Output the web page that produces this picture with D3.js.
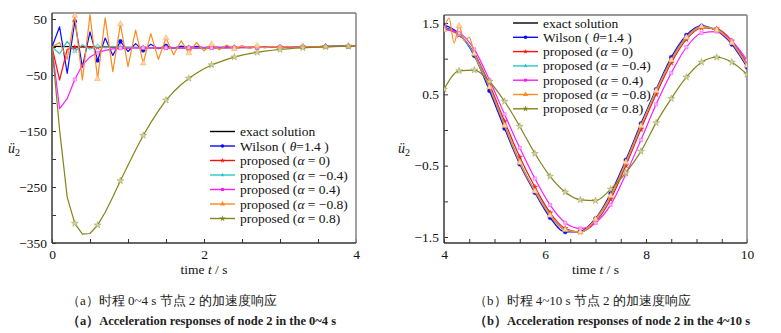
<!DOCTYPE html>
<html>
<head>
<meta charset="utf-8">
<script src="https://cdn.jsdelivr.net/npm/d3@7"></script>
<style>
  body { margin: 0; background: #fff; }
  svg, svg text { font-family: "Liberation Serif", "Times New Roman", serif; }
</style>
</head>
<body>
<svg id="chart" width="781" height="333" font-family="Liberation Serif"></svg>
<script>
// ---------- panel (a): 0-4 s, step 0.1 s ----------
const tLeft = [0,0.1,0.2,0.3,0.4,0.5,0.6,0.7,0.8,0.9,1.0,1.1,1.2,1.3,1.4,1.5,1.6,1.7,1.8,1.9,
  2.0,2.1,2.2,2.3,2.4,2.5,2.6,2.7,2.8,2.9,3.0,3.1,3.2,3.3,3.4,3.5,3.6,3.7,3.8,3.9,4.0];
const tExactLeft = [0,0.5,1.0,1.5,2.0,2.5,3.0,3.5,4.0];
const exactLeft = [0.98,0.14,-0.75,-1.34,-1.40,-0.90,-0.05,0.83,1.38];
const wilsonLeft = [0,36,-47,46,-36,27,-24,16,-15,10, -8,6,-6,5,-3,2,-2,1.5,-1.5,1,
  -1,0.5,-0.8,0.3,-1.2,-0.6,-1,-0.5,-0.6,-0.3, -0.2,0,0.2,0.4,0.5,0.7,0.9,1.0,1.2,1.3, 1.4];
const alpha0Left = [0,-59,-4,-1,-0.4,0,-0.3,-0.6,-0.9,-1.1, -1.2,-1.3,-1.35,-1.4,-1.4,-1.35,-1.4,-1.42,-1.42,-1.4,
  -1.4,-1.3,-1.2,-1.1,-1.0,-0.9,-0.7,-0.5,-0.3,-0.2, -0.05,0.1,0.3,0.5,0.6,0.8,1.0,1.1,1.2,1.3, 1.4];
const alphaM04Left = [0,-12,10,-8,4,-4,2,-1.5,1,-0.6, -0.9,-1.1,-1.2,-1.3,-1.35,-1.35,-1.4,-1.42,-1.42,-1.4,
  -1.4,-1.3,-1.2,-1.1,-1.0,-0.9,-0.7,-0.5,-0.3,-0.2, -0.05,0.1,0.3,0.5,0.6,0.8,1.0,1.1,1.2,1.3, 1.4];
const alpha04Left = [0,-110,-92,-58,-32,-18,-10,-6,-3.5,-2.4, -2,-1.8,-1.7,-1.6,-1.5,-1.5,-1.45,-1.45,-1.4,-1.4,
  -1.35,-1.3,-1.2,-1.1,-1.0,-0.9,-0.75,-0.6,-0.4,-0.25, -0.1,0.05,0.2,0.35,0.5,0.65,0.8,0.95,1.1,1.2, 1.3];
const alphaM08Left = [0,8,-22,56,-59,58,-57,52,-44,41, -35,30,-29,24,-22,16,-14,11,-11,8,
  -7,5,-5,3.5,-3.5,2.5,-2.5,2,-1.5,1.2, -1,1,-0.5,0.8,0,0.8,0.5,1.2,0.9,1.5, 1.4];
const alpha08Left = [0,-148,-268,-315,-334,-333,-318,-295,-268,-239, -211,-184,-158,-135,-114,-95,-80,-67,-56,-47,
  -39,-32,-27,-22,-18,-14.5,-12,-9.5,-7.5,-5.8, -4.4,-3.2,-2.2,-1.4,-0.7,-0.1,0.4,0.8,1.1,1.3, 1.4];

// ---------- panel (b): 4-10 s ----------
const tRight = [4.0,4.3,4.6,4.9,5.2,5.5,5.8,6.1,6.4,6.7,7.0,7.3,7.6,7.9,8.2,8.5,8.8,9.1,9.4,9.7,10.0];
const exactRight = [1.44,1.34,1.06,0.60,0.06,-0.46,-0.86,-1.20,-1.40,-1.43,-1.25,-0.92,-0.45,0.06,0.55,0.98,1.30,1.45,1.40,1.22,0.90];
const wilsonRight = [1.47,1.35,1.04,0.55,0.02,-0.48,-0.88,-1.23,-1.43,-1.42,-1.24,-0.89,-0.42,0.09,0.57,1.02,1.33,1.46,1.39,1.20,0.88];
const alpha0Right = [1.42,1.33,1.08,0.64,0.12,-0.38,-0.80,-1.16,-1.38,-1.43,-1.29,-0.97,-0.50,0.01,0.50,0.94,1.27,1.43,1.42,1.25,0.94];
const alphaM04Right = [1.43,1.34,1.06,0.61,0.07,-0.44,-0.85,-1.19,-1.40,-1.43,-1.26,-0.93,-0.46,0.05,0.54,0.97,1.29,1.45,1.41,1.23,0.91];
const alpha04Right = [1.41,1.36,1.13,0.70,0.22,-0.25,-0.68,-1.05,-1.30,-1.38,-1.30,-1.05,-0.62,-0.14,0.36,0.80,1.16,1.36,1.38,1.25,0.98];
const tAlphaM08Right = [4.0,4.1,4.2,4.3,4.4,4.5,4.6,4.9,5.2,5.5,5.8,6.1,6.4,6.7,7.0,7.3,7.6,7.9,8.2,8.5,8.8,9.1,9.4,9.7,10.0];
const alphaM08Right = [1.40,1.57,1.22,1.46,1.25,1.30,1.07,0.60,0.06,-0.46,-0.86,-1.20,-1.40,-1.43,-1.25,-0.92,-0.45,0.06,0.55,0.98,1.30,1.45,1.40,1.22,0.90];
const alpha08Right = [0.57,0.83,0.84,0.68,0.40,0.05,-0.33,-0.65,-0.87,-0.98,-0.99,-0.83,-0.60,-0.30,0.10,0.44,0.74,0.95,1.02,0.95,0.78];

// ticks
const xTicksLeft = [0,0.5,1,1.5,2,2.5,3,3.5,4];
const xLabelsLeft = [0,2,4];
const yTicksLeft = [50,0,-50,-100,-150,-200,-250,-300,-350];
const yLabelsLeft = [50,-50,-150,-250,-350];
const xTicksRight = [4,4.5,5,5.5,6,6.5,7,7.5,8,8.5,9,9.5,10];
const xLabelsRight = [4,6,8,10];
const yTicksRight = [1.5,1,0.5,0,-0.5,-1,-1.5];
const yLabelsRight = [1.5,0.5,-0.5,-1.5];

// legend entries: [text, italic]
const legendText = [
  [["exact solution", 0]],
  [["Wilson ( ", 0], ["θ", 1], ["=1.4 )", 0]],
  [["proposed (", 0], ["α", 1], [" = 0)", 0]],
  [["proposed (", 0], ["α", 1], [" = −0.4)", 0]],
  [["proposed (", 0], ["α", 1], [" = 0.4)", 0]],
  [["proposed (", 0], ["α", 1], [" = −0.8)", 0]],
  [["proposed (", 0], ["α", 1], [" = 0.8)", 0]]
];

// line colour, marker fill, marker shape for each method
const colors = ["#000000", "#0a0aff", "#ff1010", "#2ec8c8", "#ff1aff", "#ff8a1e", "#84841a"];
const markFill = ["none", "#0a0aff", "#ff2020", "#9fe6e6", "#f7b4f7", "#ffd6a8", "#d2d2a4"];
const markShape = [null, d3.symbolCircle, d3.symbolStar, d3.symbolTriangle, d3.symbolSquare, d3.symbolTriangle, d3.symbolStar];
const markSize = [0, 13, 10, 9, 11, 15, 15];

const serif = "'Liberation Serif', 'Times New Roman', serif";
const svg = d3.select("#chart");

function fmt(v) { return String(v).replace("-", "\u2212"); }

function drawPanel(p) {
  const x = d3.scaleLinear().domain(p.xDomain).range([p.left, p.right]);
  const y = d3.scaleLinear().domain(p.yDomain).range([p.bottom, p.top]);
  const g = svg.append("g");

  g.append("clipPath").attr("id", p.id + "-clip")
    .append("rect")
    .attr("x", p.left).attr("y", p.top)
    .attr("width", p.right - p.left).attr("height", p.bottom - p.top);

  // axes with inward ticks
  const xAxis = g.append("g")
    .attr("transform", "translate(0," + p.bottom + ")")
    .call(d3.axisBottom(x).tickValues(p.xTicks).tickSize(-4).tickPadding(6)
      .tickFormat(d => p.xLabels.includes(d) ? fmt(d) : ""));
  const yAxis = g.append("g")
    .attr("transform", "translate(" + p.left + ",0)")
    .call(d3.axisLeft(y).tickValues(p.yTicks).tickSize(-4).tickPadding(5)
      .tickFormat(d => p.yLabels.includes(d) ? fmt(d) : ""));
  [xAxis, yAxis].forEach(a => {
    a.select(".domain").remove();
    a.attr("font-family", serif).attr("font-size", 13.5);
    a.selectAll(".tick line").attr("stroke", "#333");
    a.selectAll(".tick text").attr("fill", "#111");
  });

  // frame
  g.append("line").attr("x1", p.left).attr("x2", p.right).attr("y1", p.top).attr("y2", p.top)
    .attr("stroke", "#333").attr("stroke-width", 1);
  g.append("line").attr("x1", p.right).attr("x2", p.right).attr("y1", p.top).attr("y2", p.bottom)
    .attr("stroke", "#8a8a8a").attr("stroke-width", 1.6);
  g.append("line").attr("x1", p.left).attr("x2", p.left).attr("y1", p.top).attr("y2", p.bottom)
    .attr("stroke", "#444").attr("stroke-width", 1.6);
  g.append("line").attr("x1", p.left).attr("x2", p.right).attr("y1", p.bottom).attr("y2", p.bottom)
    .attr("stroke", "#333").attr("stroke-width", 1.4);

  // series
  const plot = g.append("g").attr("clip-path", "url(#" + p.id + "-clip)");
  const line = d3.line().x(d => x(d[0])).y(d => y(d[1])).curve(p.curve);
  p.series.forEach((s, k) => {
    const pts = s.t.map((t, i) => [t, s.v[i]]);
    plot.append("path")
      .datum(pts)
      .attr("d", line)
      .attr("fill", "none")
      .attr("stroke", colors[k])
      .attr("stroke-width", 1.2)
      .attr("stroke-linejoin", "round");
    if (!markShape[k]) return;
    const marked = pts.filter(d => {
      const n = Math.round(d[0] * 10) - p.markPhase;
      return n % 3 === 0 && (p.markFirst || n > 0);
    });
    plot.selectAll(null)
      .data(marked)
      .enter()
      .append("path")
      .attr("transform", d => "translate(" + x(d[0]) + "," + y(d[1]) + ")")
      .attr("d", d3.symbol().type(markShape[k]).size(markSize[k]))
      .attr("fill", markFill[k])
      .attr("stroke", colors[k])
      .attr("stroke-width", 0.5)
      .attr("stroke-opacity", 0.7);
  });

  // legend
  const leg = g.append("g");
  legendText.forEach((parts, k) => {
    const ly = p.legY + k * p.legStep;
    leg.append("line")
      .attr("x1", p.legX).attr("x2", p.legX + 25)
      .attr("y1", ly).attr("y2", ly)
      .attr("stroke", colors[k]).attr("stroke-width", 1.4);
    if (markShape[k]) {
      leg.append("path")
        .attr("transform", "translate(" + (p.legX + 12.5) + "," + ly + ")")
        .attr("d", d3.symbol().type(markShape[k]).size(markSize[k] * 0.8))
        .attr("fill", colors[k]);
    }
    const txt = leg.append("text")
      .attr("x", p.legX + 30).attr("y", ly + 4.5)
      .attr("font-family", serif)
      .attr("font-size", 13.5).attr("fill", "#111");
    parts.forEach(([s, it]) => txt.append("tspan").attr("font-style", it ? "italic" : null).text(s));
  });

  // axis titles
  const xt = g.append("text")
    .attr("x", (p.left + p.right) / 2).attr("y", p.bottom + 31)
    .attr("font-family", serif)
    .attr("text-anchor", "middle").attr("font-size", 13.5).attr("fill", "#111");
  xt.append("tspan").text("time ");
  xt.append("tspan").attr("font-style", "italic").text("t");
  xt.append("tspan").text(" / s");

  const yt = g.append("text")
    .attr("x", p.left - p.yTitleOffset).attr("y", 153)
    .attr("font-family", serif)
    .attr("font-size", 14).attr("fill", "#111");
  yt.append("tspan").attr("font-style", "italic").text("ü");
  yt.append("tspan").attr("font-size", 10).attr("dy", 3).text("2");

  // captions
  svg.append("text")
    .attr("x", p.capX).attr("y", 305)
    .attr("font-family", "'Noto Sans CJK SC', 'Liberation Serif', serif")
    .attr("font-size", 13).attr("fill", "#222")
    .text(p.captionCn);
  svg.append("text")
    .attr("x", p.capX).attr("y", 325)
    .attr("font-family", serif)
    .attr("font-size", 12.5).attr("font-weight", "bold").attr("fill", "#222")
    .text(p.captionEn);
}

drawPanel({
  id: "pa",
  left: 52, right: 356, top: 13, bottom: 243,
  xDomain: [0, 4], yDomain: [-350, 60.7],
  xTicks: xTicksLeft, xLabels: xLabelsLeft, yTicks: yTicksLeft, yLabels: yLabelsLeft,
  curve: d3.curveLinear, markPhase: 0, markFirst: false,
  series: [
    { t: tExactLeft, v: exactLeft },
    { t: tLeft, v: wilsonLeft },
    { t: tLeft, v: alpha0Left },
    { t: tLeft, v: alphaM04Left },
    { t: tLeft, v: alpha04Left },
    { t: tLeft, v: alphaM08Left },
    { t: tLeft, v: alpha08Left }
  ],
  legX: 210, legY: 131.5, legStep: 14.5,
  yTitleOffset: 44,
  capX: 67,
  captionCn: "（a）时程 0~4 s 节点 2 的加速度响应",
  captionEn: "（a）Acceleration responses of node 2 in the 0~4 s"
});

drawPanel({
  id: "pb",
  left: 444, right: 747, top: 15, bottom: 243,
  xDomain: [4, 10], yDomain: [-1.584, 1.612],
  xTicks: xTicksRight, xLabels: xLabelsRight, yTicks: yTicksRight, yLabels: yLabelsRight,
  curve: d3.curveMonotoneX, markPhase: 40, markFirst: true,
  series: [
    { t: tRight, v: exactRight },
    { t: tRight, v: wilsonRight },
    { t: tRight, v: alpha0Right },
    { t: tRight, v: alphaM04Right },
    { t: tRight, v: alpha04Right },
    { t: tAlphaM08Right, v: alphaM08Right },
    { t: tRight, v: alpha08Right }
  ],
  legX: 513, legY: 23, legStep: 14.3,
  yTitleOffset: 46,
  capX: 474,
  captionCn: "（b）时程 4~10 s 节点 2 的加速度响应",
  captionEn: "（b）Acceleration responses of node 2 in the 4~10 s"
});
</script>
</body>
</html>
